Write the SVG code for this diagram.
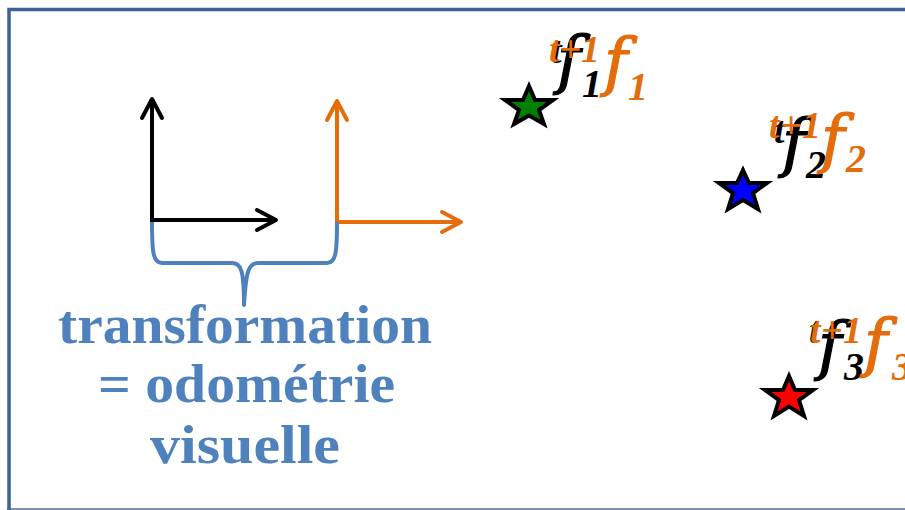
<svg xmlns="http://www.w3.org/2000/svg" width="905" height="510" viewBox="0 0 905 510">
<style>
.ax{fill:none;stroke-width:4;stroke-linecap:butt}
.blk{stroke:#000}
.org{stroke:#e46c0a}
.brace{fill:none;stroke:#4f81bd;stroke-width:4;stroke-linejoin:round}
.cap{font-family:"Liberation Serif",serif;font-weight:bold;fill:#4f81bd;text-anchor:middle}
.m{font-family:"Liberation Serif",serif;font-style:italic}
.f{font-family:"DejaVu Serif",serif;font-style:italic;font-size:64px;stroke-width:1.2}
.sb{font-size:40px;font-weight:bold}
.sp{font-size:38px;font-weight:bold}
.star{stroke:#000;stroke-width:4;stroke-linejoin:miter}
</style>
<defs>
<marker id="ahB" markerUnits="userSpaceOnUse" viewBox="-24 -14 28 28" refX="0" refY="0" markerWidth="28" markerHeight="28" orient="auto">
<path d="M-19,-10 L0,0 L-19,10" fill="none" stroke="#000" stroke-width="4" stroke-linecap="round" stroke-linejoin="round"/>
</marker>
<marker id="ahO" markerUnits="userSpaceOnUse" viewBox="-24 -14 28 28" refX="0" refY="0" markerWidth="28" markerHeight="28" orient="auto">
<path d="M-19,-10 L0,0 L-19,10" fill="none" stroke="#e46c0a" stroke-width="4" stroke-linecap="round" stroke-linejoin="round"/>
</marker>
</defs>
<rect width="905" height="510" fill="#fff"/>
<g id="frame">
<line x1="7" y1="509" x2="905" y2="509" stroke="#7f93ad" stroke-width="2"/>
<path d="M9,510 L9,9.5 L905,9.5" fill="none" stroke="#3e6394" stroke-width="3.5"/>
</g>
<g id="connectors">
<path class="ax blk" d="M152,220 L152,99" marker-end="url(#ahB)"/>
<path class="ax blk" d="M150,220 L276,220" marker-end="url(#ahB)"/>
<path class="ax org" d="M337,222 L337,101" marker-end="url(#ahO)"/>
<path class="ax org" d="M335,222 L461,222" marker-end="url(#ahO)"/>
<path class="brace" d="M152,222 C152,252 153,263 162,263 L232,263 C241,263 244,270 244,305 C246,270 249,263 258,263 L327,263 C336,263 337,252 337,222"/>
</g>
<g id="caption">
<text class="cap" x="245" y="343" font-size="54" textLength="374" lengthAdjust="spacingAndGlyphs">transformation</text>
<text class="cap" x="246.5" y="402" font-size="54" textLength="297" lengthAdjust="spacingAndGlyphs">= odométrie</text>
<text class="cap" x="245" y="463" font-size="54" textLength="190" lengthAdjust="spacingAndGlyphs">visuelle</text>
</g>
<g id="star1">
<path class="star" fill="#008000" d="M529,86 L535,100 L553,100 L539,110 L544,124 L529,115.5 L514,124 L519,110 L505,100 L523,100 Z"/>
</g>
<g id="star2">
<path class="star" fill="#0000ff" d="M743,170 L749,183 L767,183 L753,193 L758,209 L743,200 L728,209 L733,193 L719,183 L737,183 Z"/>
</g>
<g id="star3">
<path class="star" fill="#ff0000" d="M789,376 L795,390 L813,390 L799,400 L804,416 L789,406.5 L774,416 L779,400 L765,390 L783,390 Z"/>
</g>
<g id="label1">
<text class="m sp" x="551" y="63" fill="#000">t</text>
<text class="f" x="557" y="82" fill="#000" stroke="#000">f</text>
<text class="m sb" x="582" y="97" fill="#000">1</text>
<text class="m sp" x="549" y="62" fill="#e46c0a" textLength="51" lengthAdjust="spacing">t+1</text>
<text class="f" x="604" y="84" fill="#e46c0a" stroke="#e46c0a">f</text>
<text class="m sb" x="628" y="100" fill="#e46c0a">1</text>
</g>
<g id="label2">
<text class="m sp" x="774" y="143" fill="#000">t</text>
<text class="f" x="782" y="165" fill="#000" stroke="#000">f</text>
<text class="m sb" x="806" y="178" fill="#000">2</text>
<text class="m sp" x="769" y="138" fill="#e46c0a" textLength="52" lengthAdjust="spacing">t+1</text>
<text class="f" x="821" y="161" fill="#e46c0a" stroke="#e46c0a">f</text>
<text class="m sb" x="846" y="172" fill="#e46c0a">2</text>
</g>
<g id="label3">
<text class="m sp" x="809" y="343" fill="#000">t</text>
<text class="f" x="818" y="368" fill="#000" stroke="#000">f</text>
<text class="m sb" x="844" y="380" fill="#000">3</text>
<text class="m sp" x="810" y="343" fill="#e46c0a" textLength="52" lengthAdjust="spacing">t+1</text>
<text class="f" x="864" y="365" fill="#e46c0a" stroke="#e46c0a">f</text>
<text class="m sb" x="892" y="380" fill="#e46c0a">3</text>
</g>
</svg>
